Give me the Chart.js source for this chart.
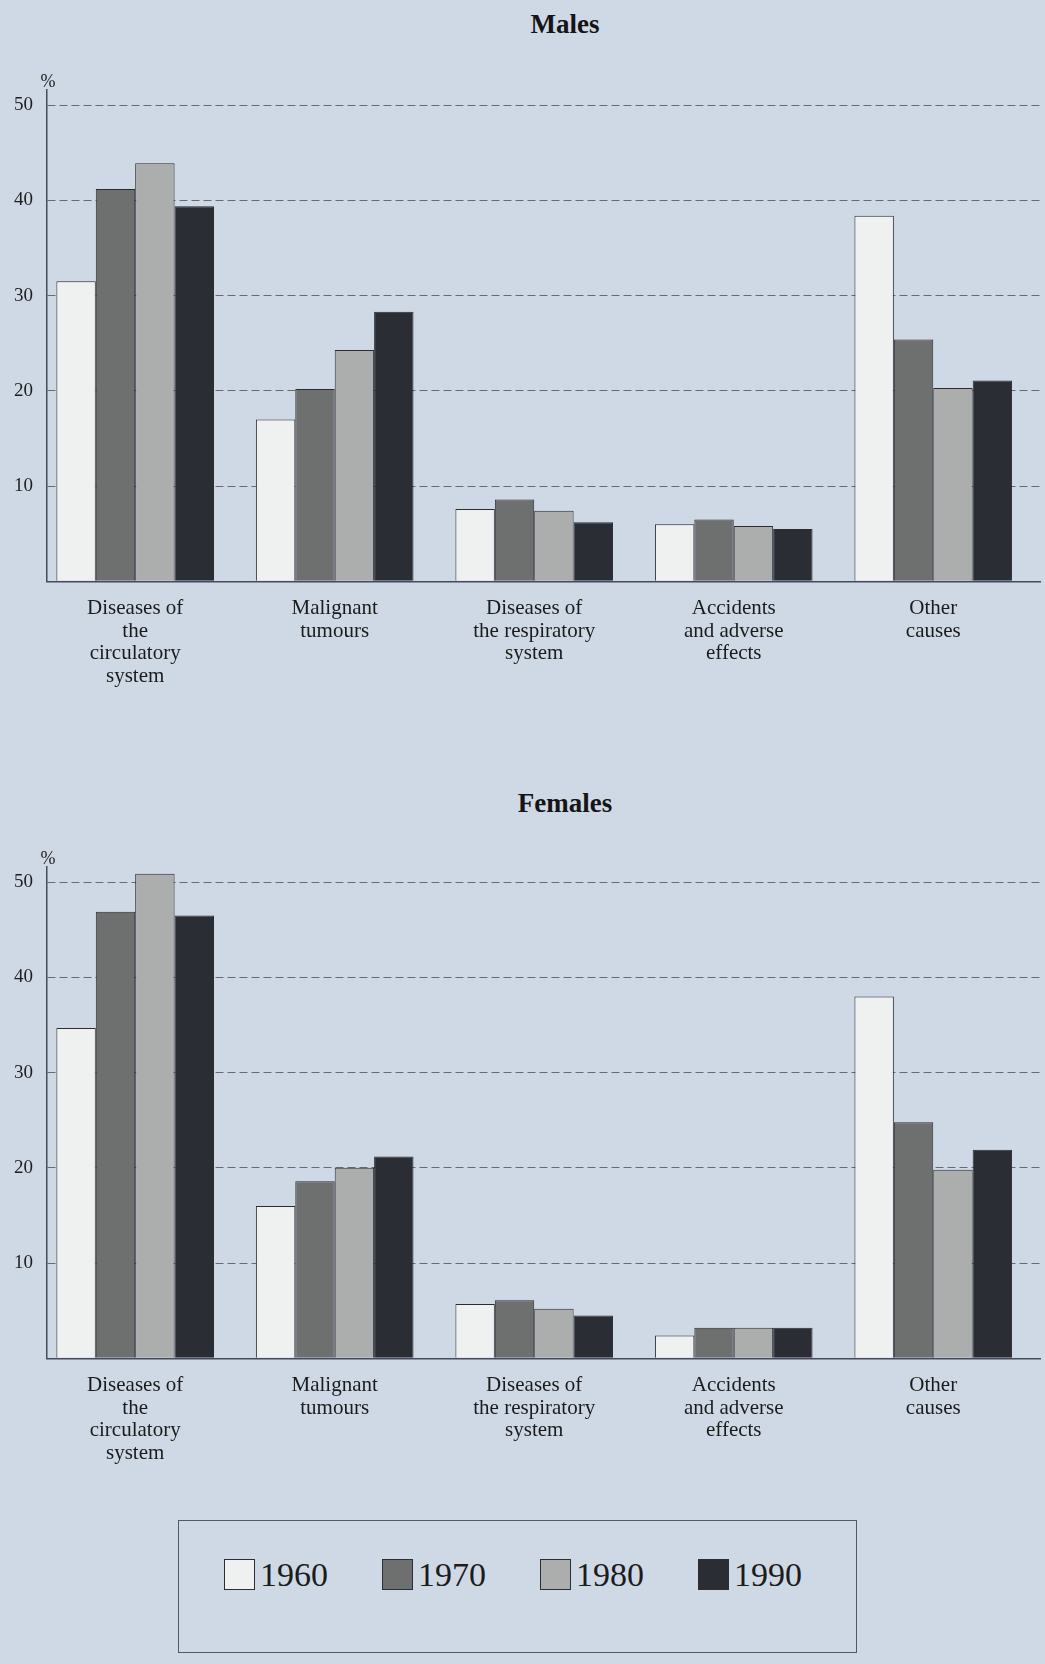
<!DOCTYPE html>
<html>
<head>
<meta charset="utf-8">
<title>Causes of death by sex, 1960–1990</title>
<script src="https://cdn.jsdelivr.net/npm/chart.js@4.4.1/dist/chart.umd.min.js"></script>
<style>
  html, body { margin: 0; padding: 0; background: #cfd9e6; }
  body {
    width: 1045px; height: 1664px; position: relative; overflow: hidden;
    font-family: "Liberation Serif", "Times New Roman", serif;
  }
  .panel { position: absolute; left: 0; width: 1045px; height: 704px; }
  .title {
    position: absolute; left: 565px; transform: translateX(-50%);
    font-weight: bold; font-size: 27px; line-height: 32px; color: #151515;
  }
  #legend {
    position: absolute; left: 178px; top: 1520px; width: 677px; height: 131px;
    border: 1.5px solid #55595f; box-sizing: content-box;
    display: flex; align-items: center;
  }
  #legend .inner {
    display: flex; align-items: center; margin-left: 45px; margin-top: -24px; gap: 54px;
  }
  #legend .item { display: flex; align-items: center; gap: 5px; }
  #legend .swatch { width: 31px; height: 31px; border: 1px solid #2c2e33; box-sizing: border-box; }
  #legend .label { font-size: 34px; line-height: 36px; color: #1c1c1c; }
</style>
</head>
<body>
<div class="title" style="top:8px">Males</div>
<div class="panel" style="top:0"><canvas id="males"></canvas></div>
<div class="title" style="top:787px">Females</div>
<div class="panel" style="top:777px"><canvas id="females"></canvas></div>
<div id="legend"><div class="inner"></div></div>

<script>
// Causes of death, share of all deaths (%)
const categories = [
  ["Diseases of", "the", "circulatory", "system"],
  ["Malignant", "tumours"],
  ["Diseases of", "the respiratory", "system"],
  ["Accidents", "and adverse", "effects"],
  ["Other", "causes"]
];
const years = ["1960", "1970", "1980", "1990"];

const males1960 = [31.5, 17.0, 7.6, 6.0, 38.4];
const males1970 = [41.2, 20.2, 8.6, 6.5, 25.4];
const males1980 = [43.9, 24.3, 7.4, 5.8, 20.3];
const males1990 = [39.4, 28.3, 6.2, 5.5, 21.1];

const females1960 = [34.7, 16.0, 5.7, 2.4, 38.0];
const females1970 = [46.9, 18.6, 6.1, 3.2, 24.8];
const females1980 = [50.9, 20.0, 5.2, 3.2, 19.8];
const females1990 = [46.5, 21.2, 4.5, 3.2, 21.9];

const yTickValues = [10, 20, 30, 40, 50];

// Fill shades per year
const yearColors = ["#eef1f0", "#6e7070", "#acaeae", "#2a2d33"];

const SERIF = '"Liberation Serif", "Times New Roman", serif';

// Small "%" unit caption above the value axis
const unitLabel = {
  id: 'unitLabel',
  afterDraw(chart, args, opts) {
    const y = chart.scales.y;
    const ctx = chart.ctx;
    ctx.save();
    ctx.font = '18px ' + SERIF;
    ctx.fillStyle = '#222';
    ctx.textAlign = 'center';
    ctx.textBaseline = 'alphabetic';
    ctx.fillText(opts.text, y.right + 1, chart.chartArea.top - 3);
    ctx.restore();
  }
};

function makeDatasets(series) {
  return series.map((vals, k) => ({
    label: years[k],
    data: vals.map((v, i) => ({ x: i, y: v })),
    backgroundColor: yearColors[k],
    borderColor: '#2a2c31',
    borderWidth: 1,
    borderSkipped: 'start',
    categoryPercentage: 0.79,
    barPercentage: 1.0
  }));
}

function makeChart(id, series) {
  return new Chart(document.getElementById(id), {
    type: 'bar',
    data: { datasets: makeDatasets(series) },
    plugins: [unitLabel],
    options: {
      responsive: true,
      maintainAspectRatio: false,
      animation: false,
      layout: { padding: { top: 90, left: 0, right: 5, bottom: 0 } },
      plugins: {
        legend: { display: false },
        tooltip: { enabled: false },
        title: { display: false },
        unitLabel: { text: '%' }
      },
      scales: {
        x: {
          type: 'linear',
          offset: false,
          min: -0.442,
          max: 4.535,
          grid: { display: false, drawTicks: false, offset: false },
          border: { display: true, color: '#454b5a', width: 1.5 },
          ticks: {
            stepSize: 1,
            includeBounds: false,
            autoSkip: false,
            maxRotation: 0,
            minRotation: 0,
            padding: 16,
            color: '#1b1b1b',
            font: { family: SERIF, size: 21, lineHeight: 1.08 },
            callback: (v) => (Number.isInteger(v) && categories[v]) ? categories[v] : ''
          }
        },
        y: {
          min: 0,
          max: 51.6,
          grid: {
            drawTicks: false,
            color: (c) => (c.tick && yTickValues.includes(c.tick.value)) ? '#666a73' : 'rgba(0,0,0,0)',
            lineWidth: 1
          },
          border: { display: true, color: '#454b5a', width: 1.5, dash: [8, 4] },
          ticks: {
            stepSize: 10,
            includeBounds: false,
            padding: 14,
            color: '#1e1e1e',
            font: { family: SERIF, size: 19 },
            callback: (v) => yTickValues.includes(v) ? String(v) : ''
          }
        }
      }
    }
  });
}

makeChart('males', [males1960, males1970, males1980, males1990]);
makeChart('females', [females1960, females1970, females1980, females1990]);

// Shared legend
const inner = document.querySelector('#legend .inner');
years.forEach((yr, k) => {
  const item = document.createElement('div');
  item.className = 'item';
  const sw = document.createElement('span');
  sw.className = 'swatch';
  sw.style.background = yearColors[k];
  const lb = document.createElement('span');
  lb.className = 'label';
  lb.textContent = yr;
  item.appendChild(sw);
  item.appendChild(lb);
  inner.appendChild(item);
});
</script>
</body>
</html>
